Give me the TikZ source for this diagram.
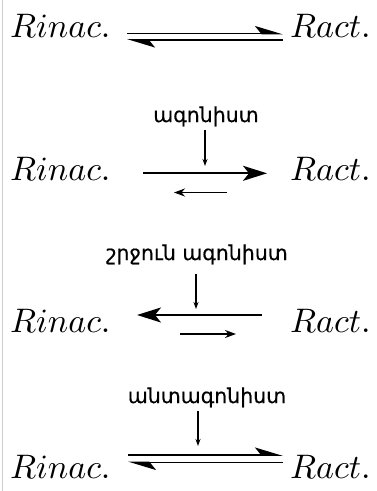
\documentclass[tikz,border=0pt]{standalone}
\usepackage{fontspec}
\newfontfamily\armfont{DejaVu Sans}[Script=Armenian, FakeBold=0.6]
% math italic that scales to any size
\DeclareFontFamily{OML}{cmmx}{\skewchar\font127}
\DeclareFontShape{OML}{cmmx}{m}{it}{<->cmmi10}{}
\DeclareSymbolFont{letters}{OML}{cmmx}{m}{it}
\usetikzlibrary{arrows.meta}
\tikzset{
  state/.style={anchor=base west, inner sep=0pt, font=\fontsize{34}{40}\selectfont},
  drug/.style={anchor=base, inner sep=0pt, font=\armfont\fontsize{20.5}{24}\selectfont},
  fwd/.style={line width=1.8pt, -{Stealth[length=24pt,width=15pt,inset=6pt]}},
  back/.style={line width=1.7pt, -{Stealth[length=11pt,width=8pt]}},
  cue/.style={line width=1.2pt, -{Stealth[length=7pt,width=5pt]}},
  harp/.style={line width=1.8pt, -{Stealth[harpoon,length=25pt,width=15pt,inset=6pt]}},
}
\begin{document}
\begin{tikzpicture}[x=1pt,y=-1pt]
\useasboundingbox (0,0) rectangle (377,491);
\draw[black!20, line width=1pt] (2.5,0) -- (2.5,491);

% basal equilibrium
\node[state] (i1) at (10,37) {$Rinac.$};
\node[state] (a1) at (290,37) {$Ract.$};
\coordinate (p1) at (127,33.5); \coordinate (q1) at (283,33.5);
\coordinate (r1) at (283,40); \coordinate (s1) at (127,40);
\draw[harp] (p1) -- (q1);
\draw[harp] (r1) -- (s1);

% agonist
\node[drug] (d2) at (206,122) {ագոնիստ};
\node[state] (i2) at (10,180) {$Rinac.$};
\node[state] (a2) at (290,180) {$Ract.$};
\coordinate (t2) at (205,130); \coordinate (b2) at (205,166);
\coordinate (p2) at (143,173.3); \coordinate (q2) at (267,173.3);
\coordinate (r2) at (227,192.5); \coordinate (s2) at (174,192.5);
\draw[cue] (t2) -- (b2);
\draw[fwd] (p2) -- (q2);
\draw[back] (r2) -- (s2);

% inverse agonist
\node[drug] (d3) at (197,260) {շրջուն ագոնիստ};
\node[state] (i3) at (10,332) {$Rinac.$};
\node[state] (a3) at (290,332) {$Ract.$};
\coordinate (t3) at (196,274); \coordinate (b3) at (196,309);
\coordinate (p3) at (262,315); \coordinate (q3) at (137,315);
\coordinate (r3) at (180,334); \coordinate (s3) at (236,334);
\draw[cue] (t3) -- (b3);
\draw[fwd] (p3) -- (q3);
\draw[back] (r3) -- (s3);

% antagonist
\node[drug] (d4) at (207,403) {անտագոնիստ};
\node[state] (i4) at (10,478) {$Rinac.$};
\node[state] (a4) at (290,478) {$Ract.$};
\coordinate (t4) at (198,411); \coordinate (b4) at (198,446);
\coordinate (p4) at (128,455); \coordinate (q4) at (283,455);
\coordinate (r4) at (283,462.5); \coordinate (s4) at (128,462.5);
\draw[cue] (t4) -- (b4);
\draw[harp] (p4) -- (q4);
\draw[harp] (r4) -- (s4);
\end{tikzpicture}
\end{document}
